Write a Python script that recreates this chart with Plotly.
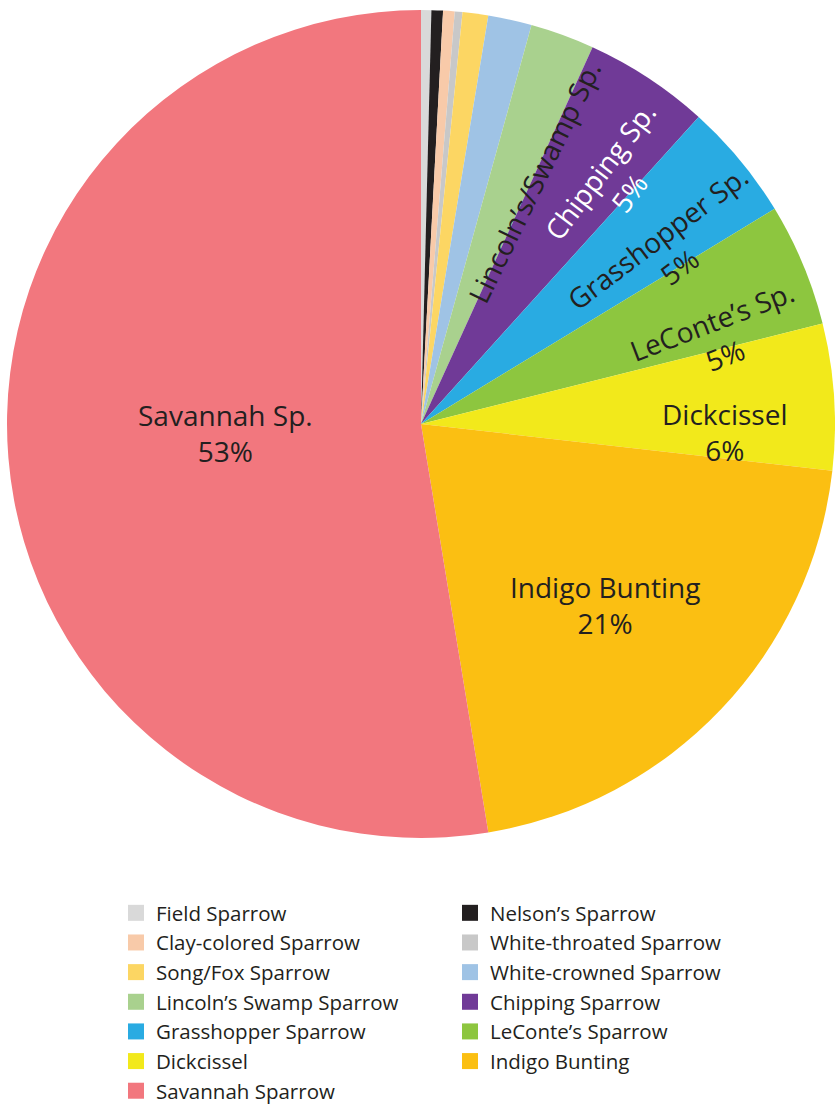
import plotly.graph_objects as go

# Share of captures by species (percent), in slice order (clockwise from 12 o'clock)
species = [
    "Field Sparrow", "Nelson’s Sparrow", "Clay-colored Sparrow", "White-throated Sparrow",
    "Song/Fox Sparrow", "White-crowned Sparrow", "Lincoln’s Swamp Sparrow", "Chipping Sparrow",
    "Grasshopper Sparrow", "LeConte’s Sparrow", "Dickcissel", "Indigo Bunting", "Savannah Sparrow",
]
share = [0.4, 0.45, 0.45, 0.3, 1.0, 1.7, 2.5, 4.9, 4.6, 4.8, 5.7, 20.6, 52.6]
colors = [
    "#d9d9d9", "#231f20", "#f8caa9", "#c8c8c8", "#fcd663", "#9fc3e5", "#a9d18e",
    "#703a97", "#29abe2", "#8dc63f", "#f2e91b", "#fbbf12", "#f2777e",
]
# Short names written on the slices ("" = no label on that slice)
slice_names = ["", "", "", "", "", "", "Lincoln’s/Swamp Sp.", "Chipping Sp.",
               "Grasshopper Sp.", "LeConte’s Sp.", "Dickcissel", "Indigo Bunting", "Savannah Sp."]
show_pct = [False] * 7 + [True] * 6

W, H = 835, 1111
CX, CY, R = 421, 424, 414
FONT = "Open Sans"
INK = "#231f20"

fig = go.Figure()
fig.add_trace(go.Pie(
    labels=species, values=share, sort=False, direction="clockwise", rotation=0,
    marker=dict(colors=colors, line=dict(width=0)),
    textinfo="none", showlegend=False, hoverinfo="label+percent",
    domain=dict(x=[(CX - R) / W, min(1, (CX + R) / W)],
                y=[1 - (CY + R) / H, 1 - (CY - R) / H]),
))

# Legend entries with larger square swatches
for name, col in zip(species, colors):
    fig.add_trace(go.Scatter(
        x=[None], y=[None], mode="markers", name=name,
        marker=dict(symbol="square", size=16, color=col),
    ))

# Slice label placement: centre (px), rotation, text colour
label_style = {
    6: (534, 182, -64, INK),
    7: (614, 182, -53, "white"),
    8: (668, 252, -37, INK),
    9: (718, 338, -21, INK),
    10: (724, 432, 0, INK),
    11: (605, 605, 0, INK),
    12: (225, 433, 0, INK),
}
total = sum(share)
for i, (px, py, ang, col) in label_style.items():
    txt = slice_names[i]
    if show_pct[i]:
        txt += f"<br>{round(share[i] / total * 100)}%"
    fig.add_annotation(
        x=px / W, y=1 - py / H, xref="paper", yref="paper",
        xanchor="center", yanchor="middle",
        text=txt, showarrow=False, textangle=ang,
        font=dict(family=FONT, size=28, color=col), align="center",
    )

fig.update_layout(
    width=W, height=H, margin=dict(l=0, r=0, t=0, b=0, autoexpand=False),
    paper_bgcolor="white", plot_bgcolor="white",
    xaxis=dict(visible=False), yaxis=dict(visible=False),
    legend=dict(
        orientation="h", x=116 / W, xanchor="left", y=0, yanchor="bottom",
        entrywidth=289, entrywidthmode="pixels", traceorder="normal",
        font=dict(family=FONT, size=20.5, color=INK), bgcolor="rgba(0,0,0,0)",
    ),
)

fig.write_html("out.html")
